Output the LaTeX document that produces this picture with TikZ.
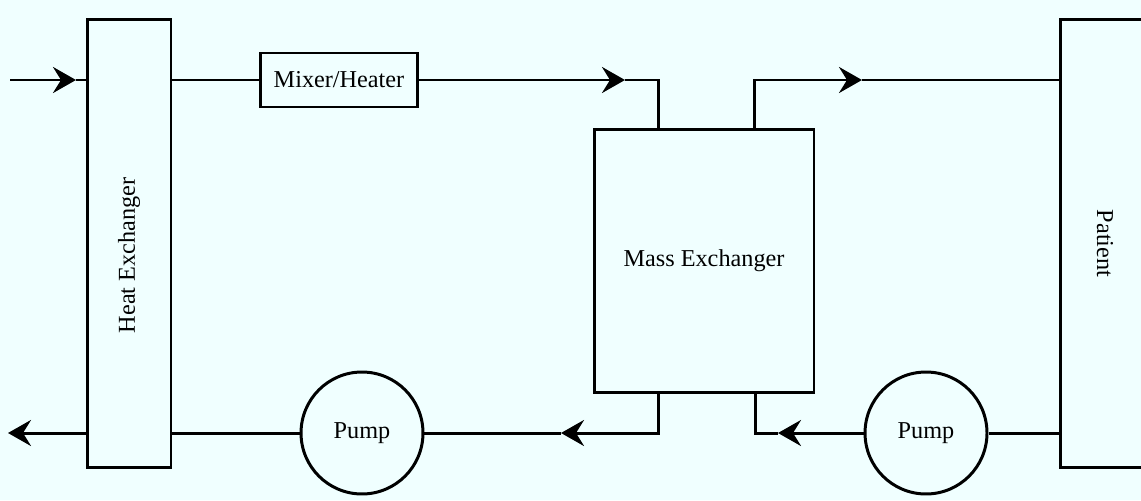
\documentclass[tikz,border=0pt]{standalone}
\usepackage{fontspec}
\setmainfont{Liberation Serif}
\usepackage{xcolor}
\usetikzlibrary{arrows.meta}
\definecolor{sheet-bg}{HTML}{F0FFFF}

\begin{document}
\begin{tikzpicture}[x=0.02cm, y=-0.02cm,
        every node/.style={font=\fontsize{13.8}{16}\selectfont},
        box/.style={draw, line width=1.7pt, fill=sheet-bg, inner sep=0pt},
        pump/.style={draw, circle, line width=1.7pt, fill=sheet-bg, inner sep=0pt,
            minimum size=2.44cm},
        flow/.style={line width=1.7pt},
        tip/.style={-{Stealth[length=0.46cm, width=0.52cm, inset=0.16cm]}}]
      \path[use as bounding box, fill=sheet-bg] (0,0) rectangle (1141,500);
      \node[box, minimum width=1.68cm, minimum height=8.98cm]
            (HX) at (129,243.5) {\rotatebox{90}{Heat Exchanger\hspace*{0.48cm}}};
      \node[box, minimum width=3.16cm, minimum height=1.08cm]
            (MIX) at (339,80) {Mixer/Heater};
      \node[box, minimum width=4.4cm, minimum height=5.28cm]
            (MX) at (704,261) {Mass Exchanger};
      \node[box, minimum width=1.8cm, minimum height=8.98cm]
            (PAT) at (1105,243.5) {\rotatebox{-90}{Patient}};
      \node[pump] (P1) at (362,433) {Pump};
      \node[pump] (P2) at (926,433) {Pump};
      % free ends and arrow points
      \coordinate (in) at (10,80);
      \coordinate (out) at (8,433);
      \coordinate (t1) at (76,80);
      \coordinate (t2) at (625,80);
      \coordinate (t3) at (862,80);
      \coordinate (t4) at (778,433);
      \coordinate (t5) at (561,433);
      % top loop
      \draw[flow, tip] (in) -- (t1);
      \draw[flow] (t1) -- (HX.west |- t1);
      \draw[flow] (HX.east |- MIX.west) -- (MIX.west);
      \draw[flow, tip] (MIX.east) -- (t2);
      \draw[flow] (t2) -| (MX.north -| 658,0);
      \draw[flow, tip] (MX.north -| 754,0) |- (t3);
      \draw[flow] (t3) -- (PAT.west |- t3);
      % bottom loop
      \draw[flow] (PAT.west |- P2) -- (P2.east);
      \draw[flow, tip] (P2.west) -- (t4);
      \draw[flow] (t4) -| (MX.south -| 755,0);
      \draw[flow, tip] (MX.south -| 658,0) |- (t5);
      \draw[flow] (t5) -- (P1.east);
      \draw[flow] (P1.west) -- (HX.east |- P1);
      \draw[flow, tip] (HX.west |- P1) -- (out);
    \end{tikzpicture}
\end{document}
